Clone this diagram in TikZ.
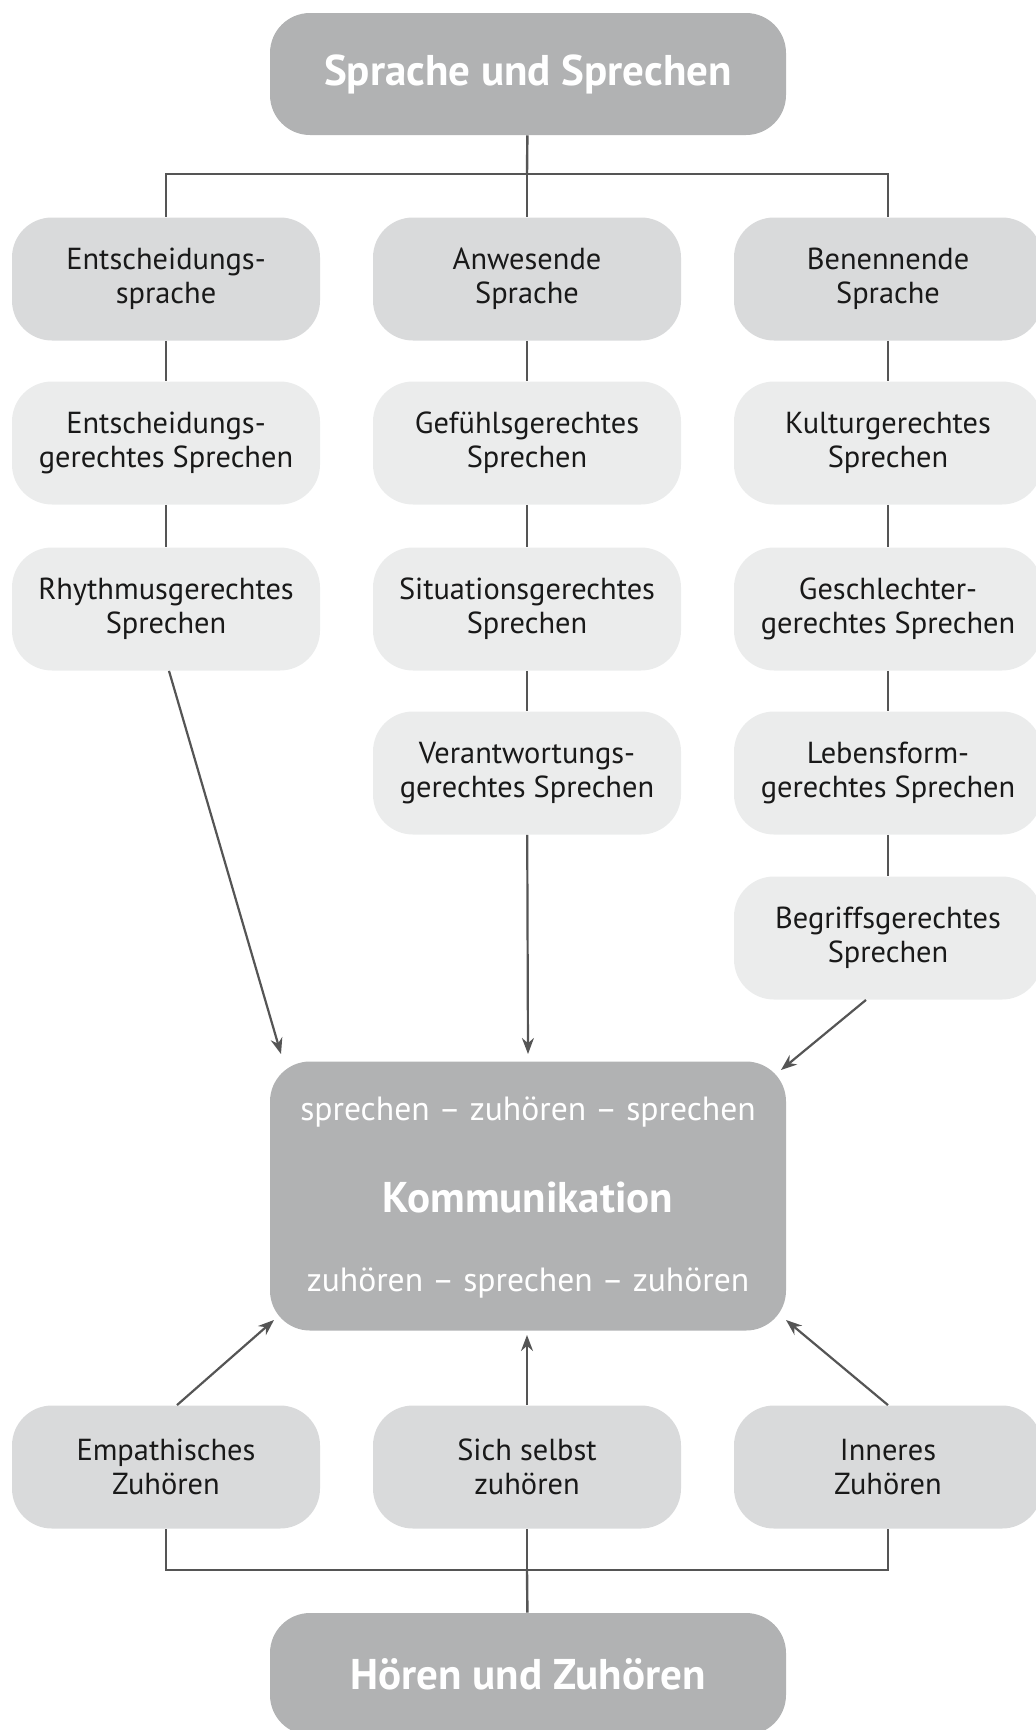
\documentclass[tikz,border=0pt]{standalone}
\usepackage{fontspec}
\setmainfont{PT Sans}
\usepackage{tikz}
\usetikzlibrary{arrows.meta, positioning}
\definecolor{boxdark}{HTML}{B1B2B3}
\definecolor{boxmid}{HTML}{D9DADB}
\definecolor{boxlight}{HTML}{EBECEC}
\definecolor{linegray}{HTML}{555555}
\tikzset{
  basebox/.style={rounded corners=20pt,align=center,minimum width=154pt,minimum height=61.5pt,
    inner sep=2pt,font=\fontsize{15.2}{17.2}\selectfont,text=black!90},
  midbox/.style={basebox,fill=boxmid},
  litbox/.style={basebox,fill=boxlight},
  headbox/.style={basebox,fill=boxdark,minimum width=258pt,minimum height=61pt,text=white,
    font=\fontsize{21.5}{24}\selectfont\bfseries},
  treeline/.style={linegray,line width=1.2pt},
  toarrow/.style={-{Stealth[length=8pt,width=6pt]},linegray,line width=1.1pt},
}
\begin{document}
\begin{tikzpicture}[x=0.5pt,y=-0.5pt]
  \useasboundingbox (0,0) rectangle (1035,1730);
  % ---- top of the tree ----
  \node[headbox] (SUS) at (528,74) {Sprache und Sprechen};
  \node[midbox] (E1) at (166,279) {Entscheidungs-\\sprache};
  \node[midbox] (A1) at (527,279) {Anwesende\\Sprache};
  \node[midbox] (B1) at (888,279) {Benennende\\Sprache};
  \node[litbox] (E2) at (166,443) {Entscheidungs-\\gerechtes Sprechen};
  \node[litbox] (E3) at (166,609) {Rhythmusgerechtes\\Sprechen};
  \node[litbox] (A2) at (527,443) {Gefühlsgerechtes\\Sprechen};
  \node[litbox] (A3) at (527,609) {Situationsgerechtes\\Sprechen};
  \node[litbox] (A4) at (527,773) {Verantwortungs-\\gerechtes Sprechen};
  \node[litbox] (B2) at (888,443) {Kulturgerechtes\\Sprechen};
  \node[litbox] (B3) at (888,609) {Geschlechter-\\gerechtes Sprechen};
  \node[litbox] (B4) at (888,773) {Lebensform-\\gerechtes Sprechen};
  \node[litbox] (B5) at (888,938) {Begriffsgerechtes\\Sprechen};
  \coordinate (JT) at (527,174);
  \draw[treeline] (SUS) -- (JT);
  \draw[treeline] (JT) -| (E1); \draw[treeline] (JT) -- (A1); \draw[treeline] (JT) -| (B1);
  \draw[treeline] (E1) -- (E2); \draw[treeline] (E2) -- (E3);
  \draw[treeline] (A1) -- (A2); \draw[treeline] (A2) -- (A3); \draw[treeline] (A3) -- (A4);
  \draw[treeline] (B1) -- (B2); \draw[treeline] (B2) -- (B3);
  \draw[treeline] (B3) -- (B4); \draw[treeline] (B4) -- (B5);
  % ---- centre ----
  \node[headbox,minimum height=134.5pt] (K) at (528,1196) {};
  \node[text=white,font=\fontsize{16.8}{19}\selectfont] (Kt) at (528,1112) {sprechen – zuhören – sprechen};
  \node[text=white,font=\fontsize{21.5}{24}\selectfont\bfseries] (Km) at (528,1197) {Kommunikation};
  \node[text=white,font=\fontsize{16.8}{19}\selectfont] (Kb) at (528,1283) {zuhören – sprechen – zuhören};
  \coordinate (KtL) at (281,1054); \coordinate (KtR) at (781,1070);
  \draw[toarrow] (E3.south) ++(3,0) -- (KtL);
  \draw[toarrow] (A4) -- (K.north |- 0,1054);
  \draw[toarrow] (B5.south) ++(-22,0) -- (KtR);
  % ---- bottom of the tree ----
  \node[midbox] (Z1) at (166,1467) {Empathisches\\Zuhören};
  \node[midbox] (Z2) at (527,1467) {Sich selbst\\zuhören};
  \node[midbox] (Z3) at (888,1467) {Inneres\\Zuhören};
  \node[headbox] (HZ) at (528,1674) {Hören und Zuhören};
  \coordinate (KbL) at (274,1320); \coordinate (KbR) at (786,1320);
  \draw[toarrow] (Z1.north) ++(11,0) -- (KbL);
  \draw[toarrow] (Z2) -- (527,1335);
  \draw[toarrow] (Z3.north) -- (KbR);
  \coordinate (JB) at (527,1570);
  \draw[treeline] (HZ) -- (JB);
  \draw[treeline] (JB) -| (Z1); \draw[treeline] (JB) -- (Z2); \draw[treeline] (JB) -| (Z3);
\end{tikzpicture}
\end{document}
